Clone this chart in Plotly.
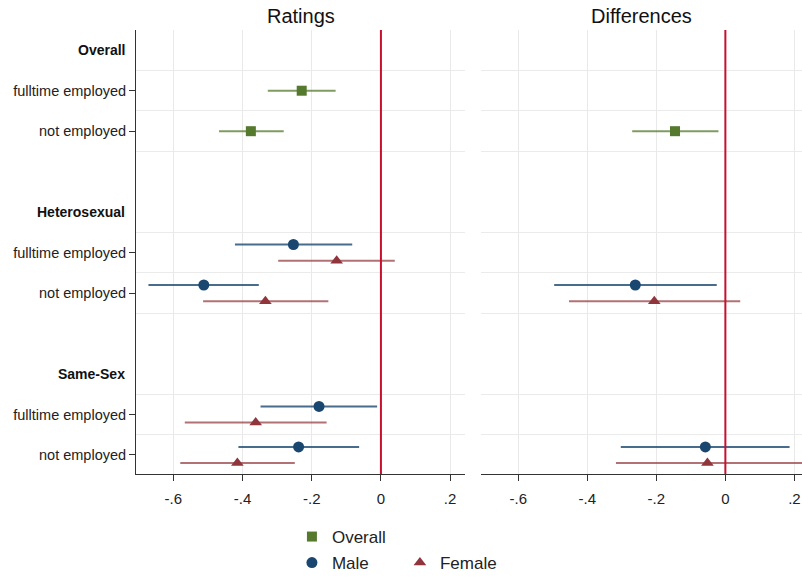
import plotly.graph_objects as go

# ---------------- data ----------------
groups = ["Overall", "Heterosexual", "Same-Sex"]
levels = ["fulltime employed", "not employed"]
x_ticks = [-0.6, -0.4, -0.2, 0, 0.2]
x_tick_labels = ["-.6", "-.4", "-.2", "0", ".2"]
reference_x = 0.0

# Ratings panel: Overall (fulltime, not employed)
overall_rating = [-0.229, -0.376]
overall_rating_lo = [-0.327, -0.468]
overall_rating_hi = [-0.131, -0.281]
# Male / Female: Het-ft, Het-ne, SS-ft, SS-ne
male_rating = [-0.253, -0.512, -0.179, -0.238]
male_rating_lo = [-0.422, -0.672, -0.348, -0.412]
male_rating_hi = [-0.083, -0.353, -0.011, -0.063]
female_rating = [-0.128, -0.334, -0.362, -0.415]
female_rating_lo = [-0.297, -0.514, -0.567, -0.580]
female_rating_hi = [0.040, -0.152, -0.157, -0.249]

# Differences panel: only "not employed" rows
overall_diff = [-0.146]
overall_diff_lo = [-0.270]
overall_diff_hi = [-0.020]
male_diff = [-0.261, -0.058]
male_diff_lo = [-0.496, -0.303]
male_diff_hi = [-0.025, 0.186]
female_diff = [-0.206, -0.052]
female_diff_lo = [-0.453, -0.317]
female_diff_hi = [0.043, 0.230]

# ---------------- layout helpers ----------------
def row_of(g, l):
    return g * 4 + 1 + l

overall_rows = [row_of(0, 0), row_of(0, 1)]
sub_rows = [row_of(1, 0), row_of(1, 1), row_of(2, 0), row_of(2, 1)]
overall_diff_rows = [row_of(0, 1)]
sub_diff_rows = [row_of(1, 1), row_of(2, 1)]
off = 0.2

GREEN = "#557a2e"
GREEN_CI = "rgba(85,122,46,0.75)"
NAVY = "#1a476f"
NAVY_CI = "rgba(26,71,111,0.8)"
MAROON = "#90353b"
MAROON_CI = "rgba(144,53,59,0.7)"

FONT = "Liberation Sans, Arial, sans-serif"

fig = go.Figure()

def add(xs, lo, hi, ys, color, cicolor, symbol, name, xa, ya, show, legend, size):
    fig.add_trace(go.Scatter(
        x=xs, y=ys, mode="markers", name=name,
        marker=dict(symbol=symbol, size=size, color=color),
        error_x=dict(type="data", symmetric=False,
                     array=[h - v for h, v in zip(hi, xs)],
                     arrayminus=[v - l for l, v in zip(lo, xs)],
                     color=cicolor, thickness=2, width=0),
        xaxis=xa, yaxis=ya, showlegend=show, legend=legend))

add(overall_rating, overall_rating_lo, overall_rating_hi, overall_rows,
    GREEN, GREEN_CI, "square", "Overall", "x", "y", True, "legend", 10)
add(male_rating, male_rating_lo, male_rating_hi, [r - off for r in sub_rows],
    NAVY, NAVY_CI, "circle", "Male", "x", "y", True, "legend2", 11)
add(female_rating, female_rating_lo, female_rating_hi, [r + off for r in sub_rows],
    MAROON, MAROON_CI, "triangle-up", "Female", "x", "y", True, "legend2", 11)

add(overall_diff, overall_diff_lo, overall_diff_hi, overall_diff_rows,
    GREEN, GREEN_CI, "square", "Overall", "x2", "y2", False, "legend", 10)
add(male_diff, male_diff_lo, male_diff_hi, [r - off for r in sub_diff_rows],
    NAVY, NAVY_CI, "circle", "Male", "x2", "y2", False, "legend2", 11)
add(female_diff, female_diff_lo, female_diff_hi, [r + off for r in sub_diff_rows],
    MAROON, MAROON_CI, "triangle-up", "Female", "x2", "y2", False, "legend2", 11)

W, H = 802, 577
ytop, ybot = 30, 474
ydom = [(H - ybot) / H, (H - ytop) / H]
xdom1 = [136 / W, 465 / W]
xdom2 = [481 / W, 1.0]

tickvals_y = [row_of(g, l) for g in range(3) for l in range(2)]
ticktext_y = [levels[l] for g in range(3) for l in range(2)]
minor_grid = [0.5, 1.5, 2.5, 4.5, 5.5, 6.5, 8.5, 9.5]

font_tick = dict(family=FONT, size=14.5, color="#222")
font_xtick = dict(family=FONT, size=15, color="#222")

xcommon = dict(tickvals=x_ticks, ticktext=x_tick_labels, showgrid=True,
               gridcolor="#e9e9e9", gridwidth=1, zeroline=False,
               showline=True, linecolor="#333", linewidth=1,
               ticks="outside", ticklen=6, tickcolor="#333",
               ticklabelstandoff=5,
               tickfont=font_xtick)
ycommon = dict(range=[10.47, -0.5], showgrid=False, zeroline=False,
               minor=dict(tickvals=minor_grid, showgrid=True,
                          gridcolor="#ebebeb", gridwidth=1, ticks=""))

fig.update_layout(
    width=W, height=H,
    margin=dict(l=0, r=0, t=0, b=0, autoexpand=False),
    paper_bgcolor="white", plot_bgcolor="white",
    xaxis=dict(domain=xdom1, range=[-0.708, 0.243], anchor="y", **xcommon),
    xaxis2=dict(domain=xdom2, range=[-0.708, 0.222], anchor="y2", **xcommon),
    yaxis=dict(domain=ydom, anchor="x", tickvals=tickvals_y, ticktext=ticktext_y,
               showline=True, linecolor="#333", linewidth=1,
               ticks="outside", ticklen=6, tickcolor="#333",
               tickfont=font_tick, **ycommon),
    yaxis2=dict(domain=ydom, anchor="x2", showticklabels=False,
                showline=False, ticks="", **ycommon),
    legend=dict(orientation="h", x=0.364, y=(H - 537) / H, xanchor="left", yanchor="middle",
                font=dict(family=FONT, size=17, color="#222"),
                bgcolor="rgba(0,0,0,0)"),
    legend2=dict(orientation="h", x=0.364, y=(H - 563) / H, xanchor="left", yanchor="middle",
                 entrywidth=63,
                 font=dict(family=FONT, size=17, color="#222"),
                 bgcolor="rgba(0,0,0,0)"),
)

# reference lines at zero
for xr in ["x", "x2"]:
    yr = "y domain" if xr == "x" else "y2 domain"
    fig.add_shape(type="line", xref=xr, yref=yr, x0=reference_x, x1=reference_x,
                  y0=0, y1=1, line=dict(color="#c8102e", width=2), layer="above")

# group headers
for g, name in enumerate(groups):
    fig.add_annotation(text="<b>" + name + "</b>", xref="paper", yref="y",
                       x=127 / W, y=g * 4, xanchor="right", yanchor="middle",
                       showarrow=False,
                       font=dict(family=FONT, size=14, color="#111"))

# panel titles
for name, dom in [("Ratings", xdom1), ("Differences", xdom2)]:
    fig.add_annotation(text=name, xref="paper", yref="paper",
                       x=(dom[0] + dom[1]) / 2, y=(H - 16) / H,
                       xanchor="center", yanchor="middle", showarrow=False,
                       font=dict(family=FONT, size=20, color="#111"))

fig.write_html("out.html")
